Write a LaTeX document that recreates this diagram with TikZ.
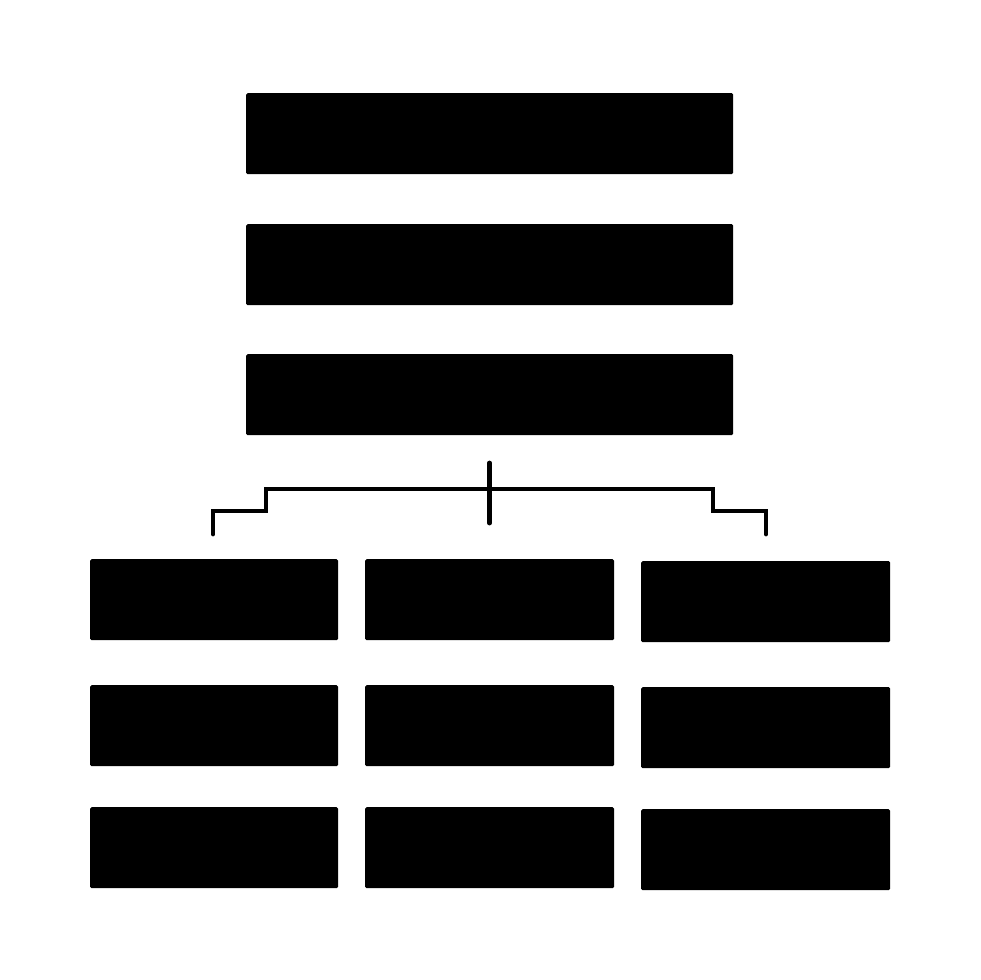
\documentclass[tikz,border=0pt]{standalone}
\begin{document}
\begin{tikzpicture}[x=1pt,y=-1pt,
  bar/.style={fill=black,draw=none,rounded corners=1.5pt,inner sep=0pt,anchor=north west},
  link/.style={draw=black,line width=4.8pt,line cap=round,line join=miter}]
\useasboundingbox (0,0) rectangle (980,980);
\fill[white] (0,0) rectangle (980,980);
% top stack
\node[bar,minimum width=487pt,minimum height=81pt] (t1) at (246,93) {};
\node[bar,minimum width=487pt,minimum height=81pt] (t2) at (246,224) {};
\node[bar,minimum width=487pt,minimum height=81pt] (t3) at (246,354) {};
% bottom columns
\node[bar,minimum width=248pt,minimum height=81pt] (a1) at (90,559) {};
\node[bar,minimum width=248pt,minimum height=81pt] (a2) at (90,685) {};
\node[bar,minimum width=248pt,minimum height=81pt] (a3) at (90,807) {};
\node[bar,minimum width=249pt,minimum height=81pt] (b1) at (365,559) {};
\node[bar,minimum width=249pt,minimum height=81pt] (b2) at (365,685) {};
\node[bar,minimum width=249pt,minimum height=81pt] (b3) at (365,807) {};
\node[bar,minimum width=249pt,minimum height=81pt] (c1) at (641,561) {};
\node[bar,minimum width=249pt,minimum height=81pt] (c2) at (641,687) {};
\node[bar,minimum width=249pt,minimum height=81pt] (c3) at (641,809) {};
% connector
\coordinate (stemtop) at (489.5,463);
\coordinate (stembot) at (489.5,523);
\coordinate (lend) at (213,534);
\coordinate (rend) at (766,534);
\draw[link] (stemtop) -- (stembot);
\draw[link] (lend) -- (213,511) -- (266,511) -- (266,489) -- (713,489) -- (713,511) -- (766,511) -- (rend);
\end{tikzpicture}
\end{document}
